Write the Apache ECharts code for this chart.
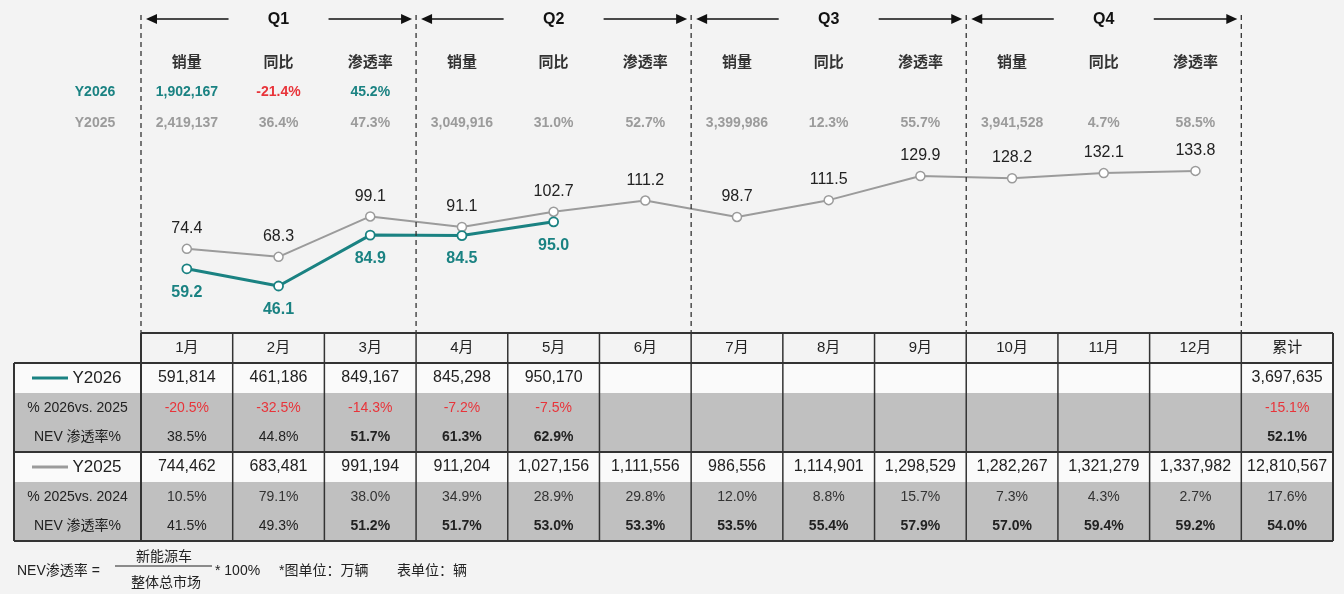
<!DOCTYPE html>
<html><head><meta charset="utf-8">
<script src="https://cdn.jsdelivr.net/npm/echarts@6/dist/echarts.min.js"></script>
<style>html,body{margin:0;padding:0;background:#f3f3f3}#c{width:1344px;height:594px}</style>
</head><body><div id="c"></div>
<script>
// ---------- data ----------
const months = ['1月','2月','3月','4月','5月','6月','7月','8月','9月','10月','11月','12月'];
const totalLabel = '累计';
const y2026Line = [59.2, 46.1, 84.9, 84.5, 95.0];
const y2025Line = [74.4, 68.3, 99.1, 91.1, 102.7, 111.2, 98.7, 111.5, 129.9, 128.2, 132.1, 133.8];
const y2026Sales = [591814, 461186, 849167, 845298, 950170];
const y2026Yoy = [-20.5, -32.5, -14.3, -7.2, -7.5];
const y2026Nev = [38.5, 44.8, 51.7, 61.3, 62.9];
const y2026Total = [3697635, -15.1, 52.1];
const y2025Sales = [744462, 683481, 991194, 911204, 1027156, 1111556, 986556, 1114901, 1298529, 1282267, 1321279, 1337982];
const y2025Yoy = [10.5, 79.1, 38.0, 34.9, 28.9, 29.8, 12.0, 8.8, 15.7, 7.3, 4.3, 2.7];
const y2025Nev = [41.5, 49.3, 51.2, 51.7, 53.0, 53.3, 53.5, 55.4, 57.9, 57.0, 59.4, 59.2];
const y2025Total = [12810567, 17.6, 54.0];
const quarters = ['Q1', 'Q2', 'Q3', 'Q4'];
const quarterHeads = ['销量', '同比', '渗透率'];
const q2026 = [[1902167, -21.4, 45.2]];
const q2025 = [[2419137, 36.4, 47.3], [3049916, 31.0, 52.7], [3399986, 12.3, 55.7], [3941528, 4.7, 58.5]];
const rowLabels = ['Y2026', '% 2026vs. 2025', 'NEV 渗透率%', 'Y2025', '% 2025vs. 2024', 'NEV 渗透率%'];

// ---------- style / layout ----------
const TEAL = '#1a8282', GRAY = '#9b9b9b', RED = '#e8343a', DARK = '#222';
const FONT = '"Liberation Sans", Arial, "Noto Sans CJK SC", sans-serif';
const L0 = 14, L1 = 141, R = 1333;
const ncol = months.length + 1;
const cw = (R - L1) / ncol;
const cx = i => L1 + cw * (i + 0.5);
const rowY = [333, 363, 393, 423, 452, 482, 512, 541];
const fmt = n => n.toLocaleString('en-US');
const pct = v => v.toFixed(1) + '%';

const G = [];
function txt(x, y, s, o) {
  o = o || {};
  G.push({type: 'text', x: x, y: y, z: 10, silent: true,
    style: {text: s, fill: o.fill || DARK,
      font: (o.bold ? 'bold ' : '') + (o.size || 14) + 'px ' + FONT,
      align: o.align || 'center', verticalAlign: 'middle',
      textAlign: o.align || 'center', textVerticalAlign: 'middle'}});
}
function ln(x1, y1, x2, y2, st) {
  G.push({type: 'line', z: 5, silent: true, shape: {x1, y1, x2, y2}, style: Object.assign({stroke: '#333', lineWidth: 1.5}, st)});
}
function rect(x, y, w, h, fill) {
  G.push({type: 'rect', z: 1, silent: true, shape: {x, y, width: w, height: h}, style: {fill: fill}});
}

// quarter dividers & arrows
for (let q = 0; q <= 4; q++) {
  const x = L1 + q * 3 * cw;
  ln(x, 15, x, rowY[0], {lineWidth: 1.3, lineDash: [5, 4], stroke: '#333'});
}
quarters.forEach((name, q) => {
  const x0 = L1 + q * 3 * cw, x1 = x0 + 3 * cw, c = (x0 + x1) / 2, ay = 19;
  ln(x0 + 14, ay, c - 50, ay, {stroke: '#111', lineWidth: 1.5});
  ln(c + 50, ay, x1 - 14, ay, {stroke: '#111', lineWidth: 1.5});
  G.push({type: 'polygon', z: 6, silent: true, shape: {points: [[x0 + 5, ay], [x0 + 16, ay - 5], [x0 + 16, ay + 5]]}, style: {fill: '#111'}});
  G.push({type: 'polygon', z: 6, silent: true, shape: {points: [[x1 - 4, ay], [x1 - 15, ay - 5], [x1 - 15, ay + 5]]}, style: {fill: '#111'}});
  txt(c, ay + 1, name, {bold: true, size: 16, fill: '#111'});
  quarterHeads.forEach((h, k) => txt(cx(q * 3 + k), 63, h, {bold: true, size: 15, fill: '#333'}));
});
txt(95, 92, 'Y2026', {bold: true, fill: TEAL});
txt(95, 123, 'Y2025', {bold: true, fill: GRAY});
q2026.forEach((r, q) => {
  txt(cx(q * 3), 92, fmt(r[0]), {bold: true, fill: TEAL});
  txt(cx(q * 3 + 1), 92, pct(r[1]), {bold: true, fill: r[1] < 0 ? RED : TEAL});
  txt(cx(q * 3 + 2), 92, pct(r[2]), {bold: true, fill: TEAL});
});
q2025.forEach((r, q) => {
  txt(cx(q * 3), 123, fmt(r[0]), {bold: true, fill: GRAY});
  txt(cx(q * 3 + 1), 123, pct(r[1]), {bold: true, fill: GRAY});
  txt(cx(q * 3 + 2), 123, pct(r[2]), {bold: true, fill: GRAY});
});

// table backgrounds
rect(L0, rowY[1], R - L0, rowY[2] - rowY[1], '#fafafa');
rect(L0, rowY[2], R - L0, rowY[4] - rowY[2], '#c0c0c0');
rect(L0, rowY[4], R - L0, rowY[5] - rowY[4], '#fafafa');
rect(L0, rowY[5], R - L0, rowY[7] - rowY[5], '#c0c0c0');
// table lines
ln(L1, rowY[0], R, rowY[0], {lineWidth: 2});
ln(L0, rowY[1], R, rowY[1], {lineWidth: 2});
ln(L0, rowY[4], R, rowY[4], {lineWidth: 2});
ln(L0, rowY[7], R, rowY[7], {lineWidth: 2});
ln(L0, rowY[1], L0, rowY[7], {lineWidth: 2});
for (let i = 0; i <= ncol; i++) {
  const x = L1 + i * cw;
  ln(x, rowY[0], x, rowY[7], {lineWidth: (i === 0 || i === ncol) ? 2 : 1.5});
}
// header
months.concat([totalLabel]).forEach((m, i) => txt(cx(i), 348, m, {size: 15}));
// row labels
const lc = (L0 + L1) / 2;
const rc = i => (rowY[i + 1] + rowY[i + 2]) / 2;
ln(32, rc(0), 68, rc(0), {stroke: TEAL, lineWidth: 3});
txt(97, rc(0), rowLabels[0], {size: 17});
txt(lc, rc(1), rowLabels[1], {size: 14});
txt(lc, rc(2), rowLabels[2], {size: 14});
ln(32, rc(3), 68, rc(3), {stroke: GRAY, lineWidth: 3});
txt(97, rc(3), rowLabels[3], {size: 17});
txt(lc, rc(4), rowLabels[4], {size: 14});
txt(lc, rc(5), rowLabels[5], {size: 14});
function fillRows(sales, yoy, nev, total, base) {
  sales.forEach((v, i) => txt(cx(i), rc(base), fmt(v), {size: 16}));
  txt(cx(ncol - 1), rc(base), fmt(total[0]), {size: 16});
  yoy.concat([total[1]]).forEach((v, k) => {
    const i = k < yoy.length ? k : ncol - 1;
    txt(cx(i), rc(base + 1), pct(v), {size: 14, fill: v < 0 ? RED : '#333'});
  });
  nev.concat([total[2]]).forEach((v, k) => {
    const i = k < nev.length ? k : ncol - 1;
    txt(cx(i), rc(base + 2), pct(v), {size: 14, bold: v >= 50, fill: '#222'});
  });
}
fillRows(y2026Sales, y2026Yoy, y2026Nev, y2026Total, 0);
fillRows(y2025Sales, y2025Yoy, y2025Nev, y2025Total, 3);

// footer
txt(17, 571, 'NEV渗透率 =', {size: 14, align: 'left'});
txt(164, 557, '新能源车', {size: 14});
ln(115, 566, 212, 566, {stroke: '#222', lineWidth: 1.2});
txt(166, 583, '整体总市场', {size: 14});
txt(215, 571, '* 100%', {size: 14, align: 'left'});
txt(279, 571, '*图单位：万辆', {size: 14, align: 'left'});
txt(397, 571, '表单位：辆', {size: 14, align: 'left'});

const chart = echarts.init(document.getElementById('c'), null, {renderer: 'canvas'});
chart.setOption({
  animation: false,
  backgroundColor: '#f3f3f3',
  grid: {left: L1, right: 1344 - R, top: 84, bottom: 247.5},
  xAxis: {type: 'category', data: months.concat([totalLabel]), boundaryGap: true, show: false},
  yAxis: {type: 'value', min: 0, max: 200, show: false},
  series: [
    {name: 'Y2025', type: 'line', data: y2025Line, z: 3, symbol: 'circle', symbolSize: 9,
      lineStyle: {color: GRAY, width: 2}, itemStyle: {color: '#fff', borderColor: GRAY, borderWidth: 1.5},
      label: {show: true, position: 'top', distance: 7, color: DARK, fontSize: 16, fontFamily: FONT, formatter: p => p.value.toFixed(1)}},
    {name: 'Y2026', type: 'line', data: y2026Line, z: 4, symbol: 'circle', symbolSize: 9,
      lineStyle: {color: TEAL, width: 3}, itemStyle: {color: '#fff', borderColor: TEAL, borderWidth: 1.8},
      label: {show: true, position: 'bottom', distance: 10, color: TEAL, fontWeight: 'bold', fontSize: 16, fontFamily: FONT, formatter: p => p.value.toFixed(1)}}
  ],
  graphic: G
});
</script></body></html>
